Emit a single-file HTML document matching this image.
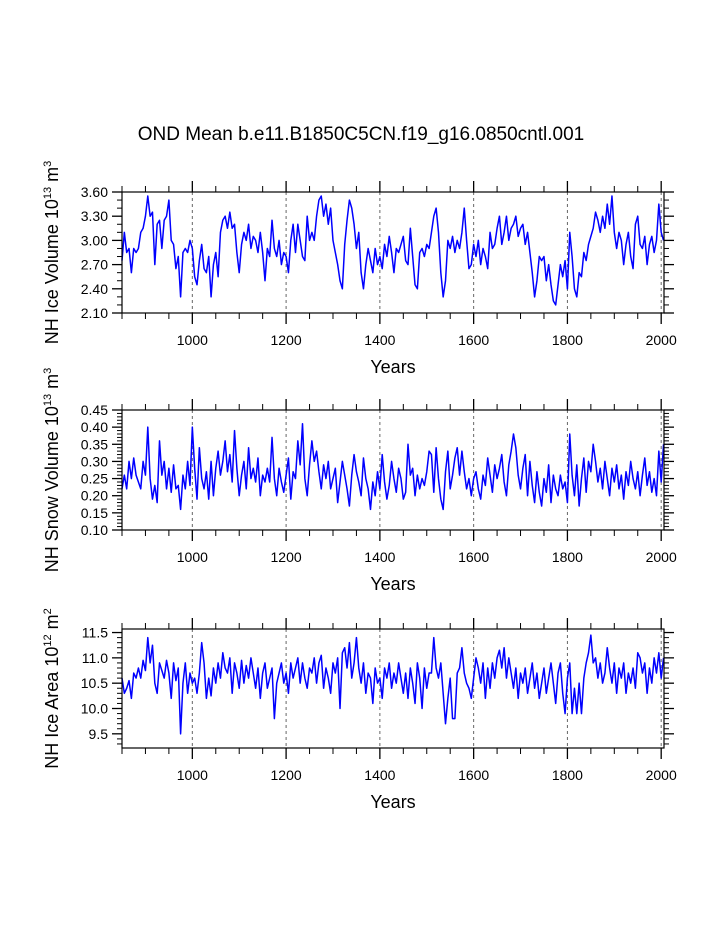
<!DOCTYPE html>
<html><head><meta charset="utf-8"><style>
html,body{margin:0;padding:0;background:#fff}
svg{display:block;font-family:"Liberation Sans",Arial,sans-serif}
</style></head><body>
<svg id="chart" width="723" height="935" viewBox="0 0 723 935" xmlns="http://www.w3.org/2000/svg">
<text x="361" y="140" font-size="19" text-anchor="middle">OND Mean b.e11.B1850C5CN.f19_g16.0850cntl.001</text>
</svg>
<script>
const startYear = 850;
const stepYears = 5;
const xTickLabels = [1000, 1200, 1400, 1600, 1800, 2000];
const iceVolume = [
2.75,3.1,2.85,2.9,2.6,2.9,2.85,2.9,3.1,3.15,
3.3,3.55,3.3,3.35,2.7,3.2,3.25,2.9,3.25,3.3,
3.5,3.0,2.95,2.65,2.8,2.3,2.85,2.9,2.85,3.0,
2.9,2.55,2.45,2.75,2.95,2.65,2.6,2.8,2.3,2.7,
2.85,2.55,3.1,3.25,3.3,3.15,3.35,3.15,3.2,2.85,
2.6,2.95,3.1,3.0,3.2,2.9,3.05,3.0,2.85,3.1,
2.85,2.5,2.9,2.8,3.25,2.9,2.8,3.0,2.7,2.85,
2.8,2.6,3.0,3.2,2.85,3.2,3.0,2.8,2.75,3.3,
3.0,3.1,3.0,3.3,3.5,3.55,3.3,3.45,3.2,3.4,
3.0,2.85,2.7,2.5,2.4,2.95,3.25,3.5,3.4,3.2,
2.9,3.1,2.6,2.4,2.7,2.9,2.75,2.6,2.9,2.7,
2.8,2.65,2.95,2.8,3.05,2.85,2.6,2.9,2.85,2.95,
3.05,2.75,2.7,3.15,2.8,2.45,2.4,2.85,2.9,2.8,
2.95,2.9,3.1,3.3,3.4,3.1,2.6,2.3,2.5,3.0,
2.9,3.05,2.85,3.0,2.9,3.1,3.4,3.0,2.65,2.7,
2.95,2.8,3.0,2.7,2.9,2.8,2.65,3.1,2.9,2.95,
3.15,3.3,2.95,3.1,3.3,3.0,3.15,3.2,3.3,3.05,
3.15,3.2,2.95,3.1,2.85,2.6,2.3,2.5,2.8,2.75,
2.8,2.5,2.7,2.45,2.25,2.2,2.45,2.7,2.55,2.75,
2.4,3.1,2.8,2.4,2.3,2.6,2.55,2.85,2.75,2.95,
3.05,3.15,3.35,3.25,3.1,3.3,3.15,3.45,3.2,3.55,
3.1,2.9,3.1,3.0,2.7,2.95,3.1,2.8,2.65,3.2,
3.3,2.95,2.9,3.05,2.7,2.95,3.05,2.85,3.0,3.45,
3.1,3.0];
const snowVolume = [
0.22,0.26,0.22,0.30,0.25,0.31,0.26,0.24,0.22,0.30,
0.26,0.40,0.25,0.19,0.23,0.18,0.36,0.26,0.30,0.22,
0.28,0.21,0.29,0.22,0.23,0.16,0.26,0.22,0.30,0.23,
0.40,0.28,0.19,0.34,0.25,0.22,0.27,0.19,0.30,0.20,
0.28,0.33,0.26,0.30,0.36,0.27,0.32,0.24,0.39,0.28,
0.20,0.26,0.30,0.22,0.34,0.25,0.28,0.24,0.31,0.20,
0.26,0.24,0.28,0.24,0.37,0.25,0.20,0.28,0.24,0.21,
0.26,0.31,0.19,0.27,0.25,0.36,0.29,0.41,0.25,0.20,
0.29,0.36,0.30,0.33,0.27,0.22,0.29,0.25,0.30,0.22,
0.25,0.28,0.18,0.24,0.30,0.26,0.22,0.17,0.26,0.32,
0.27,0.24,0.20,0.31,0.25,0.22,0.16,0.24,0.20,0.27,
0.22,0.32,0.24,0.19,0.23,0.30,0.25,0.21,0.28,0.25,
0.19,0.21,0.35,0.26,0.28,0.20,0.26,0.22,0.25,0.23,
0.27,0.33,0.32,0.21,0.34,0.25,0.19,0.16,0.27,0.33,
0.22,0.26,0.31,0.34,0.26,0.33,0.27,0.22,0.25,0.20,
0.25,0.27,0.22,0.19,0.26,0.23,0.31,0.26,0.21,0.29,
0.25,0.28,0.32,0.24,0.20,0.29,0.33,0.38,0.34,0.26,
0.22,0.28,0.32,0.20,0.30,0.23,0.18,0.27,0.21,0.17,
0.25,0.21,0.29,0.18,0.26,0.22,0.20,0.26,0.22,0.24,
0.18,0.38,0.26,0.20,0.29,0.17,0.25,0.31,0.21,0.30,
0.27,0.35,0.30,0.24,0.28,0.22,0.30,0.25,0.20,0.28,
0.24,0.29,0.22,0.26,0.19,0.27,0.23,0.30,0.25,0.22,
0.27,0.20,0.26,0.31,0.23,0.27,0.21,0.25,0.20,0.33,
0.24,0.35];
const iceArea = [
10.6,10.3,10.4,10.55,10.2,10.7,10.6,10.8,10.6,10.95,
10.75,11.4,10.9,11.25,10.5,10.3,10.9,10.75,10.6,10.95,
10.7,10.2,10.9,10.55,10.8,9.5,10.5,10.9,10.3,10.7,
10.5,10.6,10.3,10.7,11.3,10.9,10.2,10.6,10.25,10.8,
10.5,10.9,10.6,11.1,10.8,10.7,11.0,10.3,10.9,10.7,
10.4,10.95,10.5,10.85,10.6,11.0,10.7,10.4,10.8,10.2,
10.7,10.9,10.4,10.6,10.8,9.8,10.5,10.7,10.9,10.5,
10.7,10.3,10.9,10.6,10.8,11.0,10.5,10.9,10.6,10.4,
10.8,10.7,11.0,10.5,10.9,11.05,10.4,10.8,10.6,10.3,
10.9,10.7,11.0,10.0,11.1,11.2,10.8,11.3,10.6,10.9,
11.4,10.8,10.5,10.9,10.3,10.7,10.6,10.1,10.8,10.5,
10.6,10.2,10.8,10.6,10.9,10.4,10.7,10.5,10.9,10.6,
10.3,10.7,10.2,10.8,10.5,10.1,10.9,10.6,10.0,10.8,
10.4,10.7,10.7,11.4,10.8,10.6,10.9,10.3,9.7,10.2,
10.6,9.8,9.8,10.7,10.8,11.2,10.7,10.5,10.4,10.2,
10.6,11.0,10.8,10.5,10.9,10.2,10.8,10.4,10.9,10.6,
11.0,11.15,10.8,11.2,10.6,11.0,10.7,10.4,10.8,10.2,
10.7,10.5,10.8,10.3,10.6,10.9,10.4,10.7,10.2,10.5,
10.8,10.3,10.6,10.9,10.5,10.1,10.7,10.9,10.3,9.9,
10.6,10.9,9.9,10.4,9.9,10.5,9.9,10.6,10.9,11.1,
11.45,10.9,11.0,10.6,10.9,10.5,10.7,11.2,10.8,10.5,
10.9,10.3,10.8,10.6,10.9,10.3,10.7,10.5,10.8,10.4,
11.1,11.0,10.7,10.9,10.3,10.8,10.5,11.0,10.7,11.1,
10.6,11.0];
const iceVolTicks = [2.10, 2.40, 2.70, 3.00, 3.30, 3.60];
const snowTicks = [0.10, 0.15, 0.20, 0.25, 0.30, 0.35, 0.40, 0.45];
const areaTicks = [9.5, 10.0, 10.5, 11.0, 11.5];

const NS = 'http://www.w3.org/2000/svg';
const svg = document.getElementById('chart');
const X0 = 122, X1 = 664, YMIN = 850, YMAX = 2006;
function xs(yr){ return X0 + (yr - YMIN) / (YMAX - YMIN) * (X1 - X0); }
function mk(tag, attrs, parent){
  const e = document.createElementNS(NS, tag);
  for (const k in attrs) e.setAttribute(k, attrs[k]);
  (parent || svg).appendChild(e);
  return e;
}

const panels = [
 {name:'ice-volume', top:192, bot:313, vmin:2.10, vmax:3.60, data:iceVolume, ticks:iceVolTicks, minor:0.10, dec:2, lab:['NH Ice Volume 10','13',' m','3']},
 {name:'snow-volume', top:410, bot:530, vmin:0.10, vmax:0.45, data:snowVolume, ticks:snowTicks, minor:0.01, dec:2, lab:['NH Snow Volume 10','13',' m','3']},
 {name:'ice-area', top:629, bot:748, vmin:9.22, vmax:11.57, data:iceArea, ticks:areaTicks, minor:0.1, dec:1, lab:['NH Ice Area 10','12',' m','2']}
];

panels.forEach(p => {
  const g = mk('g', {});
  
  
  const ys = v => p.bot - (v - p.vmin) / (p.vmax - p.vmin) * (p.bot - p.top);
  xTickLabels.forEach(t => {
    const l = mk('line', {x1:xs(t), x2:xs(t), y1:p.top, y2:p.bot, stroke:'#666', 'stroke-width':1, 'stroke-dasharray':'3,3'}, g);
    
    
  });
  let d = '';
  p.data.forEach((v, i) => { d += (i ? 'L' : 'M') + xs(startYear + i * stepYears).toFixed(2) + ',' + ys(v).toFixed(2); });
  const path = mk('path', {d:d, fill:'none', stroke:'#0000ff', 'stroke-width':1.5, 'stroke-linejoin':'round'}, g);
  
  
  const fr = mk('rect', {x:X0, y:p.top, width:X1 - X0, height:p.bot - p.top, fill:'none', stroke:'#000', 'stroke-width':1.2}, g);
  
  
  for (let yr = YMIN; yr <= YMAX; yr += 50) {
    const major = yr % 200 === 0;
    const len = major ? 11 : 6;
    const x = xs(yr);
    mk('line', {x1:x, x2:x, y1:p.top, y2:p.top - len, stroke:'#000', 'stroke-width':major?1.3:1}, g);
    mk('line', {x1:x, x2:x, y1:p.bot, y2:p.bot + len, stroke:'#000', 'stroke-width':major?1.3:1}, g);
  }
  xTickLabels.forEach(t => {
    const tx = mk('text', {x:xs(t), y:p.bot + 32, 'font-size':14, 'text-anchor':'middle'}, g);
    tx.textContent = t;
    
    
  });
  const yt = mk('text', {x:393, y:p.bot + 60, 'font-size':18, 'text-anchor':'middle'}, g);
  yt.textContent = 'Years';
  
  
  for (let k = Math.ceil(p.vmin / p.minor - 1e-6); k * p.minor <= p.vmax + 1e-9; k++) {
    const v = k * p.minor;
    const major = p.ticks.some(t => Math.abs(t - v) < 1e-6);
    const len = major ? 10 : 5;
    const y = ys(v);
    mk('line', {x1:X0, x2:X0 - len, y1:y, y2:y, stroke:'#000', 'stroke-width':major?1.3:1}, g);
    mk('line', {x1:X1, x2:X1 + len, y1:y, y2:y, stroke:'#000', 'stroke-width':major?1.3:1}, g);
  }
  p.ticks.forEach(t => {
    const tx = mk('text', {x:108, y:ys(t) + 5, 'font-size':14, 'text-anchor':'end'}, g);
    tx.textContent = t.toFixed(p.dec);
    
    
  });
  const cy = (p.top + p.bot) / 2;
  const tt = mk('text', {x:0, y:0, 'font-size':18, 'text-anchor':'middle', transform:'translate(58,' + cy + ') rotate(-90)'}, g);
  
  
  const parts = p.lab;
  [parts[0], parts[1], parts[2], parts[3]].forEach((s, i) => {
    const ts = document.createElementNS(NS, 'tspan');
    ts.textContent = s;
    if (i % 2 === 1) { ts.setAttribute('font-size', '11'); ts.setAttribute('dy', '-7'); }
    else if (i === 2) { ts.setAttribute('dy', '7'); }
    tt.appendChild(ts);
  });
});
</script>
</body></html>
